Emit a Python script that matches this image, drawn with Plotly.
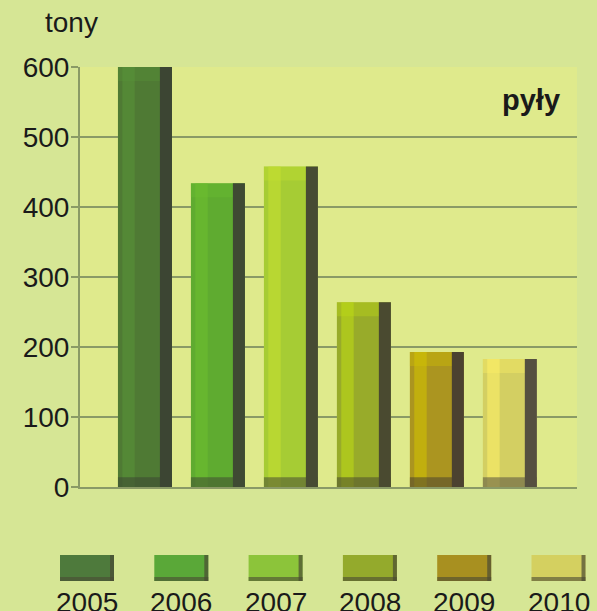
import plotly.graph_objects as go

years = ["2005", "2006", "2007", "2008", "2009", "2010"]
values = [600, 434, 458, 264, 193, 183]
main_colors = ["#4f7a34", "#5fab30", "#a6cc34", "#98ab2a", "#ab9520", "#d3cf62"]
light_colors = ["#5a9438", "#6dc030", "#c6e032", "#c0dc14", "#d4c400", "#fff268"]
dark_colors = ["#3c4533", "#3f4a33", "#474b33", "#4a4a30", "#4b4230", "#555040"]
legend_colors = ["#4e7a3c", "#5aa838", "#8cc43a", "#94aa2c", "#a89020", "#d4d060"]
y_ticks = [0, 100, 200, 300, 400, 500, 600]

L, R, T, B = 80, 20, 67, 124
W, H = 597, 611
PW, PH = W - L - R, H - T - B

xs = list(range(len(years)))
fig = go.Figure()
fig.add_trace(go.Bar(x=xs, y=values, width=0.74, offset=-0.37,
                     marker=dict(color=main_colors, line=dict(width=0)),
                     showlegend=False, hoverinfo="y"))
fig.add_trace(go.Bar(x=xs, y=values, width=0.17, offset=-0.31,
                     marker=dict(color=light_colors, opacity=0.55, line=dict(width=0)),
                     showlegend=False, hoverinfo="skip"))
# top highlight band
fig.add_trace(go.Bar(x=xs, y=[20] * len(values), base=[v - 20 for v in values],
                     width=0.58, offset=-0.37,
                     marker=dict(color=light_colors, opacity=0.35, line=dict(width=0)),
                     showlegend=False, hoverinfo="skip"))
# bottom shadow band
fig.add_trace(go.Bar(x=xs, y=[14] * len(values), width=0.74, offset=-0.37,
                     marker=dict(color=dark_colors, opacity=0.55, line=dict(width=0)),
                     showlegend=False, hoverinfo="skip"))
fig.add_trace(go.Bar(x=xs, y=values, width=0.165, offset=0.205,
                     marker=dict(color=dark_colors, line=dict(width=0)),
                     showlegend=False, hoverinfo="skip"))

font = "Liberation Sans, Arial, sans-serif"
fig.update_layout(
    width=W, height=H,
    margin=dict(l=L, r=R, t=T, b=B),
    paper_bgcolor="#d6e695",
    plot_bgcolor="#dfea8c",
    barmode="overlay",
    font=dict(family=font, size=28, color="#1a1a1a"),
    xaxis=dict(range=[-0.89, 5.92], showticklabels=False, showgrid=False,
               zeroline=False, showline=True, linecolor="#8a9a66", linewidth=2,
               ticks="", fixedrange=True),
    yaxis=dict(range=[0, 600], tickvals=y_ticks, showgrid=True,
               gridcolor="#8a9a66", gridwidth=2, zeroline=False,
               showline=True, linecolor="#8a9a66", linewidth=2,
               ticks="outside", ticklen=7, tickwidth=2, tickcolor="#8a9a66",
               ticklabelstandoff=-4,
               tickfont=dict(size=28, family=font, color="#1a1a1a")),
)

fig.add_annotation(text="tony", xref="paper", yref="paper",
                   x=(71 - L) / PW, y=(487 - 23) / PH,
                   showarrow=False, xanchor="center", yanchor="middle",
                   font=dict(size=28, family=font, color="#1a1a1a"))
fig.add_annotation(text="<b>pyły</b>", xref="paper", yref="paper",
                   x=(562 - L) / PW, y=(487 - 100) / PH,
                   showarrow=False, xanchor="right", yanchor="middle",
                   font=dict(size=29, family=font, color="#1a1a1a"))

# legend: rectangles with labels beneath
for i, (yr, c) in enumerate(zip(years, legend_colors)):
    cx = 87 + 94.3 * i
    x0 = (cx - 27 - L) / PW
    x1 = (cx + 27 - L) / PW
    y0 = (487 - 581) / PH
    y1 = (487 - 555) / PH
    fig.add_shape(type="rect", xref="paper", yref="paper", x0=x0, x1=x1, y0=y0, y1=y1,
                  fillcolor=c, line=dict(width=0))
    fig.add_shape(type="rect", xref="paper", yref="paper", x0=x1 - 4 / PW, x1=x1, y0=y0, y1=y1,
                  fillcolor="#4a4a34", opacity=0.7, line=dict(width=0))
    fig.add_shape(type="rect", xref="paper", yref="paper", x0=x0, x1=x1, y0=y0, y1=y0 + 4 / PH,
                  fillcolor="#4a4a34", opacity=0.6, line=dict(width=0))
    fig.add_annotation(text=yr, xref="paper", yref="paper",
                       x=(cx - L) / PW, y=(487 - 602) / PH,
                       showarrow=False, xanchor="center", yanchor="middle",
                       font=dict(size=28, family=font, color="#1a1a1a"))

fig.write_html("out.html", config={"displayModeBar": False},
               post_script="document.body.style.margin='0';document.body.style.padding='0';")
